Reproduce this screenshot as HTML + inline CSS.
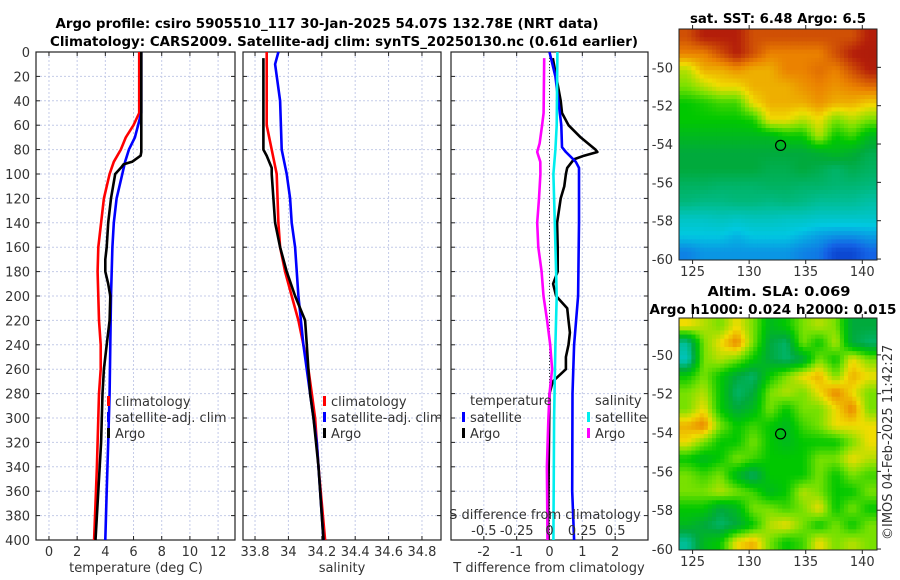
<!DOCTYPE html>
<html><head><meta charset="utf-8"><style>
html,body{margin:0;padding:0;background:#fff;}
svg{display:block;font-family:"DejaVu Sans","Liberation Sans",sans-serif;}
.t{font-size:13px;fill:#333;}
.b{font-weight:bold;font-size:13px;fill:#000;}
</style></head><body>
<svg id="c" width="900" height="580" viewBox="0 0 900 580" xmlns="http://www.w3.org/2000/svg">
<text class="b" x="327" y="28" text-anchor="middle" textLength="543" lengthAdjust="spacingAndGlyphs">Argo profile: csiro 5905510_117 30-Jan-2025 54.07S 132.78E (NRT data)</text>
<text class="b" x="344" y="46" text-anchor="middle" textLength="588" lengthAdjust="spacingAndGlyphs">Climatology: CARS2009. Satellite-adj clim: synTS_20250130.nc (0.61d earlier)</text>
<text class="b" x="778" y="23" text-anchor="middle" textLength="176" lengthAdjust="spacingAndGlyphs">sat. SST: 6.48 Argo: 6.5</text>
<text class="b" x="779" y="296" text-anchor="middle" textLength="143" lengthAdjust="spacingAndGlyphs">Altim. SLA: 0.069</text>
<text class="b" x="773" y="314" text-anchor="middle" textLength="247" lengthAdjust="spacingAndGlyphs">Argo h1000: 0.024 h2000: 0.015</text>
<text class="t" x="0" y="0" transform="translate(892,540) rotate(-90)">©IMOS 04-Feb-2025 11:42:27</text>
<g id="g"></g>
</svg>
<script>
// ---- data ----
const tClimDepth=[0,50,60,70,80,90,100,120,140,160,180,200,220,240,260,280,300,340,400];
const tClimVal=[6.4,6.4,6.0,5.45,5.1,4.6,4.3,3.9,3.7,3.5,3.45,3.5,3.55,3.67,3.67,3.55,3.5,3.4,3.2];
const tSatDepth=[0,50,70,80,90,100,120,140,160,200,240,280,320,360,400];
const tSatVal=[6.55,6.55,6.1,5.67,5.4,5.2,4.8,4.6,4.5,4.4,4.35,4.3,4.2,4.1,4.0];
const tArgoDepth=[0,82,85,90,92,95,100,110,120,140,160,170,180,190,200,220,240,260,280,320,360,400];
const tArgoVal=[6.55,6.55,6.5,5.9,5.3,5.1,4.7,4.55,4.4,4.2,4.1,4.0,4.0,4.2,4.35,4.3,4.1,3.9,3.8,3.7,3.5,3.3];
const sClimDepth=[0,60,80,100,140,160,180,200,220,240,260,280,300,340,400];
const sClimVal=[33.87,33.87,33.9,33.93,33.94,33.95,33.98,34.02,34.06,34.09,34.12,34.14,34.16,34.18,34.22];
const sSatDepth=[0,10,40,80,100,120,140,160,200,240,280,320,400];
const sSatVal=[33.94,33.92,33.95,33.96,33.99,34.01,34.02,34.04,34.06,34.09,34.13,34.17,34.21];
const sArgoDepth=[5,80,85,95,100,120,140,160,180,200,220,240,260,280,300,340,380,400];
const sArgoVal=[33.85,33.85,33.87,33.9,33.9,33.91,33.92,33.95,33.99,34.04,34.1,34.11,34.12,34.13,34.15,34.18,34.2,34.21];
const dtSatDepth=[0,20,60,78,82,90,95,140,200,240,280,360,400];
const dtSatVal=[0,0.18,0.36,0.38,0.5,0.8,0.9,0.9,0.87,0.75,0.7,0.69,0.75];
const dtArgoDepth=[5,40,50,60,70,80,82,85,88,95,100,110,120,140,160,180,190,200,210,220,230,240,250,260,270,280,400];
const dtArgoVal=[0.1,0.34,0.38,0.58,0.95,1.4,1.46,1.05,0.74,0.54,0.5,0.45,0.34,0.23,0.25,0.25,0.11,0.2,0.54,0.58,0.62,0.58,0.5,0.5,0.1,0.0,-0.05];
const dsSatDepth=[0,60,80,100,140,180,200,240,300,400];
const dsSatVal=[0.06,0.055,0.045,0.03,0.04,0.05,0.055,0.045,0.035,0.03];
const dsArgoDepth=[5,50,60,75,82,90,100,120,140,160,180,200,220,240,260,280,300,340,400];
const dsArgoVal=[-0.04,-0.045,-0.056,-0.075,-0.094,-0.07,-0.069,-0.08,-0.094,-0.085,-0.06,-0.046,-0.018,0.005,0.02,0.0,-0.008,-0.02,-0.015];
const depthTicks=[0,20,40,60,80,100,120,140,160,180,200,220,240,260,280,300,320,340,360,380,400];
const tTicks=[0,2,4,6,8,10,12];
const sTicks=[33.8,34,34.2,34.4,34.6,34.8];
const dtTicks=[-2,-1,0,1,2];
const dsTicks=[-0.5,-0.25,0,0.25,0.5];
const dsTickLabels=["-0.5","-0.25","0","0.25","0.5"];
const latTicks=[-50,-52,-54,-56,-58,-60];
const lonTicks=[125,130,135,140];
const sstGrid=[
[8.5,9,9,9,8.5,8.5,8.5,8.5,8.5,8.5,8.5,9],
[8,8,8.5,9,8.5,8,8,8,8,8.5,9,9.2],
[6.5,7.5,7.5,7.8,7.5,7.5,8,8,8.2,8,8.5,9],
[6,6.5,7,7,7.5,7.5,7.5,7.8,8,7.8,8,8.2],
[5,5.2,5.5,5.5,7,7.5,7.5,7.5,7.8,7.5,7.5,7.2],
[5,5,5,5,5.2,7,7,6.5,7,6,6.5,6],
[4.5,4.5,4.5,4.5,4.5,4.5,5,5,6.5,5,5.5,4.5],
[4,4,4,4,4,4,4,4,4.2,4.5,4.2,3.8],
[4,4,4,4,4,3.8,3.8,4,3.8,3.5,3.8,3.6],
[3.6,3.6,3.5,3.5,3.5,3.6,3.6,3.5,3.5,3.4,3.4,3.3],
[3.3,3.2,3.2,3.3,3.3,3.2,3.3,3.2,3,3,3,2.8],
[2.4,2.4,2.5,2.4,2.5,2.5,2.4,2.4,2.3,2.3,2.3,2.3],
[2,2,2,1.8,2,2,2,1.8,1.6,1.5,1.5,1.6],
[1.3,1.5,1.5,1.5,1.5,1.5,1.5,1.3,1.2,0.6,0.6,1]];
const slaGrid=[
[7,6.5,6,7,6,4.5,5,6,6.5,6,4,4],
[3,6,7,8,6,4,3.5,6,5,6.5,4,3.5],
[2.5,6,6.5,6,5,4,3.5,4,6,5,7,6],
[5,6,5,4,3.5,5,6,7,7.5,6,7.5,7],
[6,6.5,5,3.5,4,6,6.5,6,7,8,7,6],
[6,7,5,4,4.5,6,5,6,6,7,8,6],
[7.5,8,6,5,5.5,5,4.5,5.5,6,7,7,7],
[7,6,5,5,6,5,4.5,5,5,5,6,7],
[5,4.5,5,6,5.5,5,5,5,6,6,7,6.5],
[6,5.5,6,4.5,3.5,5,5,5,6,5,6,5.5],
[6,6,6.5,6,5.5,4.5,5,6.5,6,5,5,6],
[5,5,4,4.5,6,6,5.5,6,7,5,6,5],
[4.5,4,3.5,4,5,6.5,7,6,5,6,5,6],
[3,4.5,5,7,7.5,6,5,5.5,7,6,6.5,6]];

// ---- helpers ----
const NS="http://www.w3.org/2000/svg";
const G=document.getElementById('g');
function mk(tag,attrs,parent){const e=document.createElementNS(NS,tag);for(const k in attrs)e.setAttribute(k,attrs[k]);(parent||G).appendChild(e);return e;}
const Y0=52,Y1=540;
const yD=d=>Y0+(Y1-Y0)*d/400;
const panels=[
 {x0:36,x1:235,v0:-0.92,v1:13.2,name:'temperature-panel'},
 {x0:243,x1:441,v0:33.728,v1:34.914,name:'salinity-panel'},
 {x0:451,x1:648,v0:-3,v1:3,name:'difference-panel'}];
function sx(p,v){return p.x0+(p.x1-p.x0)*(v-p.v0)/(p.v1-p.v0);}
const dsScale=p=>v=>sx(p,v*4);

panels.forEach((p,i)=>{
 const g=mk('g',{});
 
 
 const ticks=i==0?tTicks:i==1?sTicks:dtTicks;
 depthTicks.forEach(d=>{const l=mk('line',{x1:p.x0,x2:p.x1,y1:yD(d),y2:yD(d),stroke:'#c4cbe8','stroke-dasharray':'2,2','stroke-width':1},g);
  
  mk('line',{x1:p.x0,x2:p.x0+4,y1:yD(d),y2:yD(d),stroke:'#222'},g);mk('line',{x1:p.x1-4,x2:p.x1,y1:yD(d),y2:yD(d),stroke:'#222'},g);});
 ticks.forEach(v=>{const x=sx(p,v);const l=mk('line',{x1:x,x2:x,y1:Y0,y2:Y1,stroke:'#c4cbe8','stroke-dasharray':'2,2'},g);
  
  mk('line',{x1:x,x2:x,y1:Y1-4,y2:Y1,stroke:'#222'},g);mk('line',{x1:x,x2:x,y1:Y0,y2:Y0+4,stroke:'#222'},g);
  const t=mk('text',{x:x,y:556,'text-anchor':'middle',class:'t'},g);t.textContent=String(v);
  });
 const r=mk('rect',{x:p.x0,y:Y0,width:p.x1-p.x0,height:Y1-Y0,fill:'none',stroke:'#222','stroke-width':1.2},g);
 
});
depthTicks.forEach(d=>{const t=mk('text',{x:30,y:yD(d)+5,'text-anchor':'end',class:'t'});t.textContent=d;
 });
[['temperature (deg C)',136],['salinity',342],['T difference from climatology',549]].forEach(a=>{
 const t=mk('text',{x:a[1],y:572,'text-anchor':'middle',class:'t'});t.textContent=a[0];
 });
const zx=sx(panels[2],0);
const zl=mk('line',{x1:zx,x2:zx,y1:Y0,y2:Y1,stroke:'#333','stroke-dasharray':'1,2'});


function line(depths,vals,fx,color,name,w){
 const pts=depths.map((d,i)=>fx(vals[i]).toFixed(1)+','+yD(d).toFixed(1)).join(' ');
 const e=mk('polyline',{points:pts,fill:'none',stroke:color,'stroke-width':w||2.6,'stroke-linejoin':'round'});
 
 
}
const P=panels;
line(tClimDepth,tClimVal,v=>sx(P[0],v),'#f00','temp-climatology-line');
line(tSatDepth,tSatVal,v=>sx(P[0],v),'#00f','temp-satellite-line');
line(tArgoDepth,tArgoVal,v=>sx(P[0],v),'#000','temp-argo-line');
line(sClimDepth,sClimVal,v=>sx(P[1],v),'#f00','sal-climatology-line');
line(sSatDepth,sSatVal,v=>sx(P[1],v),'#00f','sal-satellite-line');
line(sArgoDepth,sArgoVal,v=>sx(P[1],v),'#000','sal-argo-line');
line(dtArgoDepth,dtArgoVal,v=>sx(P[2],v),'#000','tdiff-argo-line');
line(dtSatDepth,dtSatVal,v=>sx(P[2],v),'#00f','tdiff-satellite-line');
line(dsSatDepth,dsSatVal,dsScale(P[2]),'#0ee','sdiff-satellite-line');
line(dsArgoDepth,dsArgoVal,dsScale(P[2]),'#f0f','sdiff-argo-line');

const st=mk('text',{x:545,y:519,'text-anchor':'middle',class:'t'});st.textContent='S difference from climatology';

dsTicks.forEach((v,i)=>{const t=mk('text',{x:dsScale(P[2])(v),y:535,'text-anchor':'middle',class:'t'});t.textContent=dsTickLabels[i];
 });

function leg(x,y,color,label,name){
 const g=mk('g',{});
 if(color)mk('rect',{x:x,y:y-10,width:3,height:10,fill:color},g);
 const t=mk('text',{x:x+(color?8:0),y:y,class:'t'},g);t.textContent=label;
}
leg(107,406,'#f00','climatology','legend-climatology');
leg(107,422,'#00f','satellite-adj. clim','legend-satellite');
leg(107,438,'#000','Argo','legend-argo');
leg(323,406,'#f00','climatology','legend-climatology-2');
leg(323,422,'#00f','satellite-adj. clim','legend-satellite-2');
leg(323,438,'#000','Argo','legend-argo-2');
leg(470,405,null,'temperature','legend-temperature-header');
leg(462,422,'#00f','satellite','legend-tdiff-satellite');
leg(462,438,'#000','Argo','legend-tdiff-argo');
leg(595,405,null,'salinity','legend-salinity-header');
leg(587,422,'#0ee','satellite','legend-sdiff-satellite');
leg(587,438,'#f0f','Argo','legend-sdiff-argo');

// maps
const stops=[[0,[0,30,180]],[1,[20,100,230]],[2,[0,200,225]],[3,[0,190,150]],[4,[0,170,60]],[5,[0,200,0]],[6,[120,225,0]],[7,[240,220,0]],[8,[235,130,0]],[9,[180,30,10]],[10,[150,20,10]]];
function col(v){v=Math.max(0,Math.min(10,v));const i=Math.min(9,Math.floor(v));const f=v-i;const a=stops[i][1],b=stops[i+1][1];
 return 'rgb('+a.map((c,k)=>Math.round(c+(b[k]-c)*f)).join(',')+')';}
function sample(grid,fr,fc){const R=grid.length,C=grid[0].length;
 fr=Math.max(0,Math.min(R-1,fr));fc=Math.max(0,Math.min(C-1,fc));
 const r0=Math.floor(fr),c0=Math.floor(fc),r1=Math.min(R-1,r0+1),c1=Math.min(C-1,c0+1),a=fr-r0,b=fc-c0;
 return grid[r0][c0]*(1-a)*(1-b)+grid[r0][c1]*(1-a)*b+grid[r1][c0]*a*(1-b)+grid[r1][c1]*a*b;}
function map(grid,x0,y0,x1,y1,lat0,lat1,name){
 const g=mk('g',{});
 const R=grid.length,C=grid[0].length,S=4,cw=(x1-x0)/(C*S),ch=(y1-y0)/(R*S);
 for(let r=0;r<R*S;r++)for(let c=0;c<C*S;c++){
  const v=sample(grid,(r+0.5)/S-0.5,(c+0.5)/S-0.5);
  const e=mk('rect',{x:(x0+c*cw).toFixed(2),y:(y0+r*ch).toFixed(2),width:(cw+0.5).toFixed(2),height:(ch+0.5).toFixed(2),fill:col(v)},g);
  
  
 }
 mk('rect',{x:x0,y:y0,width:x1-x0,height:y1-y0,fill:'none',stroke:'#222'},g);
 const ly=l=>y0+(y1-y0)*(l-lat0)/(lat1-lat0);
 const lx=l=>x0+(x1-x0)*(l-123.8)/(141.3-123.8);
 latTicks.forEach(l=>{mk('line',{x1:x1,x2:x1+4,y1:ly(l),y2:ly(l),stroke:'#222'},g);
  const t=mk('text',{x:x0-6,y:ly(l)+5,'text-anchor':'end',class:'t'},g);t.textContent=l;
  });
 lonTicks.forEach(l=>{mk('line',{x1:lx(l),x2:lx(l),y1:y1,y2:y1+4,stroke:'#222'},g);mk('line',{x1:lx(l),x2:lx(l),y1:y0-4,y2:y0,stroke:'#222'},g);
  const t=mk('text',{x:lx(l),y:y1+16,'text-anchor':'middle',class:'t'},g);t.textContent=l;
  });
 const m=mk('circle',{cx:lx(132.78),cy:ly(-54.07),r:5,fill:'none',stroke:'#000','stroke-width':1.2},g);
 
}
map(sstGrid,679,29,877,260,-48.0,-60.05,'sst-map');
map(slaGrid,679,318,877,550,-48.1,-60.05,'sla-map');
</script>
</body></html>
